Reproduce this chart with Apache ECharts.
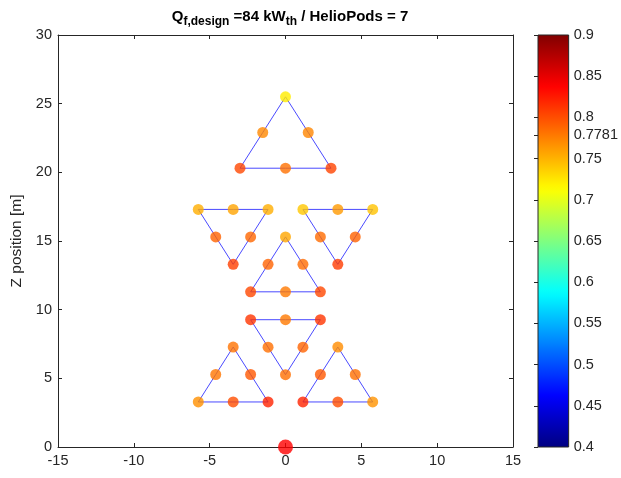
<!DOCTYPE html>
<html>
<head>
<meta charset="utf-8">
<script src="https://cdn.jsdelivr.net/npm/echarts@6/dist/echarts.min.js"></script>
<style>
  html, body { margin: 0; padding: 0; background: #fff; }
  #chart { width: 621px; height: 478px; }
</style>
</head>
<body>
<div id="chart"></div>
<script>
// Heliostat pod layout: each pod is a triangle of 6 mirrors,
// listed in order around the triangle (vertex, mid, vertex, mid, vertex, mid).
const podX = [
  [-3.0, 0.0, 3.0, 1.5, 0.0, -1.5],          // top pod
  [-5.75, -3.45, -1.15, -2.3, -3.45, -4.6],  // row 2 left (inverted)
  [-2.3, 0.0, 2.3, 1.15, 0.0, -1.15],        // row 2 middle
  [1.15, 3.45, 5.75, 4.6, 3.45, 2.3],        // row 2 right (inverted)
  [-2.3, 0.0, 2.3, 1.15, 0.0, -1.15],        // row 3 middle (inverted)
  [-5.75, -3.45, -1.15, -2.3, -3.45, -4.6],  // row 3 left
  [1.15, 3.45, 5.75, 4.6, 3.45, 2.3]         // row 3 right
];
const podZ = [
  [20.3, 20.3, 20.3, 22.9, 25.5, 22.9],
  [17.3, 17.3, 17.3, 15.3, 13.3, 15.3],
  [11.3, 11.3, 11.3, 13.3, 15.3, 13.3],
  [17.3, 17.3, 17.3, 15.3, 13.3, 15.3],
  [9.27, 9.27, 9.27, 7.27, 5.27, 7.27],
  [3.28, 3.28, 3.28, 5.28, 7.28, 5.28],
  [3.28, 3.28, 3.28, 5.28, 7.28, 5.28]
];
// Optical efficiency of each mirror
const podEff = [
  [0.803, 0.782, 0.805, 0.772, 0.722, 0.771],
  [0.752, 0.757, 0.752, 0.787, 0.807, 0.789],
  [0.803, 0.778, 0.803, 0.785, 0.756, 0.789],
  [0.740, 0.762, 0.742, 0.790, 0.808, 0.785],
  [0.812, 0.778, 0.812, 0.789, 0.783, 0.783],
  [0.767, 0.800, 0.820, 0.795, 0.781, 0.780],
  [0.820, 0.800, 0.765, 0.783, 0.769, 0.795]
];
const receiver = [0, 0];
const xTicks = { min: -15, max: 15, step: 5 };
const zTicks = { min: 0, max: 30, step: 5 };
const cbarRange = [0.4, 0.9];
const cbarTicks = [0.4, 0.45, 0.5, 0.55, 0.6, 0.65, 0.7, 0.75, 0.7781, 0.8, 0.85, 0.9];
const titleParts = ['Q', 'f,design', ' =84 kW', 'th', ' / HelioPods = 7'];
const yName = 'Z position [m]';

// jet colormap
function jet(n) {
  const c = v => Math.round(255 * Math.max(0, Math.min(1, v)));
  const out = [];
  for (let i = 0; i < n; i++) {
    const x = i / (n - 1);
    const r = c(1.5 - Math.abs(4 * x - 3));
    const g = c(1.5 - Math.abs(4 * x - 2));
    const b = c(1.5 - Math.abs(4 * x - 1));
    out.push('rgb(' + r + ',' + g + ',' + b + ')');
  }
  return out;
}
const jetColors = jet(64);

const FONT = '"Liberation Sans", Arial, Helvetica, sans-serif';
const AX = '#262626';

const points = [];
podX.forEach((xs, p) => xs.forEach((x, i) => points.push([x, podZ[p][i], podEff[p][i]])));

const lineSeries = podX.map((xs, p) => {
  const d = xs.map((x, i) => [x, podZ[p][i]]);
  d.push(d[0]);
  return {
    type: 'line', data: d, xAxisIndex: 0, yAxisIndex: 0,
    symbol: 'none', silent: true, z: 2,
    lineStyle: { color: '#2a2aff', width: 1, opacity: 0.85 },
    animation: false
  };
});

const chart = echarts.init(document.getElementById('chart'), null, { renderer: 'canvas' });

const option = {
  animation: false,
  backgroundColor: '#fff',
  title: {
    left: 285, top: 0, textAlign: 'center',
    text: '{b|' + titleParts[0] + '}{s|' + titleParts[1] + '}{b|' + titleParts[2] + '}{s|' + titleParts[3] + '}{b|' + titleParts[4] + '}',
    textStyle: {
      rich: {
        b: { fontFamily: FONT, fontSize: 15, fontWeight: 'bold', color: '#000', lineHeight: 24, verticalAlign: 'middle' },
        s: { fontFamily: FONT, fontSize: 12, fontWeight: 'bold', color: '#000', lineHeight: 24, padding: [10, 0, 0, 0], verticalAlign: 'middle' }
      }
    }
  },
  grid: [
    { left: 58, right: 108, top: 35, bottom: 31, containLabel: false },
    { left: 538, width: 32, top: 35, bottom: 31, containLabel: false }
  ],
  visualMap: {
    type: 'continuous', show: false, seriesIndex: 7, dimension: 2,
    min: cbarRange[0], max: cbarRange[1], inRange: { color: jetColors }
  },
  xAxis: [
    {
      type: 'value', gridIndex: 0, min: xTicks.min, max: xTicks.max, interval: xTicks.step,
      axisLine: { onZero: false, lineStyle: { color: AX, width: 1 } },
      axisTick: { inside: true, length: 4, lineStyle: { color: AX } },
      axisLabel: { color: AX, fontFamily: FONT, fontSize: 14.5, margin: 6 },
      splitLine: { show: false }
    },
    {
      type: 'value', gridIndex: 0, position: 'top', min: xTicks.min, max: xTicks.max, interval: xTicks.step,
      axisLine: { onZero: false, lineStyle: { color: AX, width: 1 } },
      axisTick: { inside: true, length: 4, lineStyle: { color: AX } },
      axisLabel: { show: false }, splitLine: { show: false }
    },
    { type: 'value', gridIndex: 1, min: 0, max: 1, show: false }
  ],
  yAxis: [
    {
      type: 'value', gridIndex: 0, min: zTicks.min, max: zTicks.max, interval: zTicks.step,
      name: yName, nameLocation: 'middle', nameGap: 27, nameRotate: 90,
      nameTextStyle: { color: AX, fontFamily: FONT, fontSize: 15.5 },
      axisLine: { onZero: false, lineStyle: { color: AX, width: 1 } },
      axisTick: { inside: true, length: 4, lineStyle: { color: AX } },
      axisLabel: { color: AX, fontFamily: FONT, fontSize: 14.5, margin: 6 },
      splitLine: { show: false }
    },
    {
      type: 'value', gridIndex: 0, position: 'right', min: zTicks.min, max: zTicks.max, interval: zTicks.step,
      axisLine: { onZero: false, lineStyle: { color: AX, width: 1 } },
      axisTick: { inside: true, length: 4, lineStyle: { color: AX } },
      axisLabel: { show: false }, splitLine: { show: false }
    },
    {
      type: 'value', gridIndex: 1, position: 'right', min: cbarRange[0], max: cbarRange[1],
      axisLine: { show: false },
      axisTick: { show: true, inside: true, length: 4, lineStyle: { color: AX }, customValues: cbarTicks },
      axisLabel: { color: AX, fontFamily: FONT, fontSize: 14.5, margin: 5, customValues: cbarTicks, formatter: v => String(v) },
      splitLine: { show: false }
    }
  ],
  series: lineSeries.concat([
    {
      type: 'scatter', xAxisIndex: 0, yAxisIndex: 0, data: points,
      symbol: 'circle', symbolSize: 11, z: 3
    },
    {
      type: 'scatter', xAxisIndex: 0, yAxisIndex: 0, data: [receiver],
      symbol: 'circle', symbolSize: 15, z: 4, itemStyle: { color: '#ff0000' }
    },
    {
      // colour bar
      type: 'custom', xAxisIndex: 2, yAxisIndex: 2, silent: true, z: 1,
      data: [[0, cbarRange[0], 1, cbarRange[1]]],
      renderItem: function (params, api) {
        const p0 = api.coord([api.value(0), api.value(3)]);
        const p1 = api.coord([api.value(2), api.value(1)]);
        const stops = jetColors.map((c, i) => ({ offset: 1 - i / (jetColors.length - 1), color: c }));
        stops.reverse();
        return {
          type: 'rect',
          shape: { x: p0[0], y: p0[1], width: p1[0] - p0[0], height: p1[1] - p0[1] },
          style: {
            fill: new echarts.graphic.LinearGradient(0, 0, 0, 1, stops),
            stroke: AX, lineWidth: 1
          }
        };
      }
    }
  ])
};
chart.setOption(option);
</script>
</body>
</html>
